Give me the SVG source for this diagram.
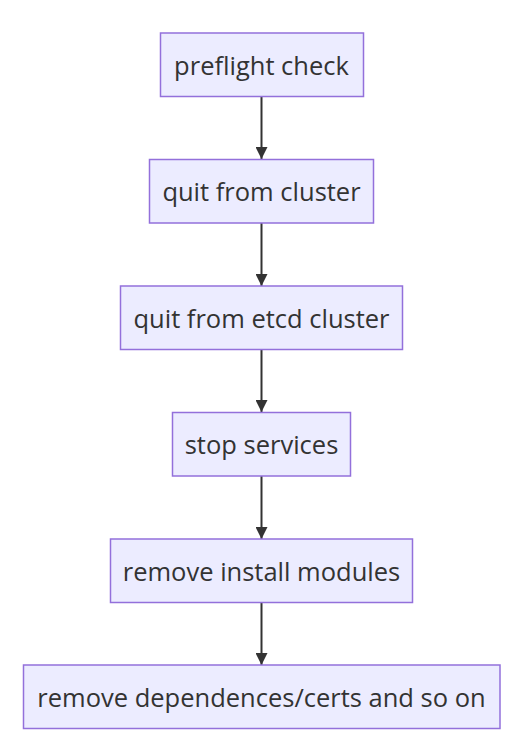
<svg xmlns="http://www.w3.org/2000/svg" width="511" height="752" viewBox="0 0 511 752">
<style>
.node rect{fill:#ECECFF;stroke:#9370DB;stroke-width:1.5}
.node text{font-family:"Open Sans","Noto Sans",sans-serif;font-size:25.5px;fill:#333;text-anchor:middle;dominant-baseline:central}
.edge{stroke:#333;stroke-width:2;fill:none}
</style>
<defs>
<marker id="arr" viewBox="0 0 10 10" refX="10" refY="5" markerWidth="6" markerHeight="6" markerUnits="strokeWidth" orient="auto">
<path d="M0,0 L10,5 L0,10 z" fill="#333"/>
</marker>
</defs>
<rect width="511" height="752" fill="#fff"/>
<g id="edges">
<path class="edge" d="M261.5,97 L261.5,159" marker-end="url(#arr)"/>
<path class="edge" d="M261.5,223 L261.5,286" marker-end="url(#arr)"/>
<path class="edge" d="M261.5,350 L261.5,412" marker-end="url(#arr)"/>
<path class="edge" d="M261.5,476 L261.5,539" marker-end="url(#arr)"/>
<path class="edge" d="M261.5,603 L261.5,665" marker-end="url(#arr)"/>
</g>
<g id="n1" class="node"><rect x="160.5" y="33" width="203" height="63.5"/><text x="261.5" y="64.5">preflight check</text></g>
<g id="n2" class="node"><rect x="149.5" y="159.5" width="224" height="63.5"/><text x="261.5" y="191">quit from cluster</text></g>
<g id="n3" class="node"><rect x="120.5" y="286" width="282" height="63.5"/><text x="261.5" y="317.5">quit from etcd cluster</text></g>
<g id="n4" class="node"><rect x="172.5" y="412.5" width="178" height="63.5"/><text x="261.5" y="444">stop services</text></g>
<g id="n5" class="node"><rect x="110.5" y="539" width="302" height="63.5"/><text x="261.5" y="570.5">remove install modules</text></g>
<g id="n6" class="node"><rect x="23.5" y="665" width="476.5" height="63.5"/><text x="261.5" y="696.5">remove dependences/certs and so on</text></g>
</svg>
